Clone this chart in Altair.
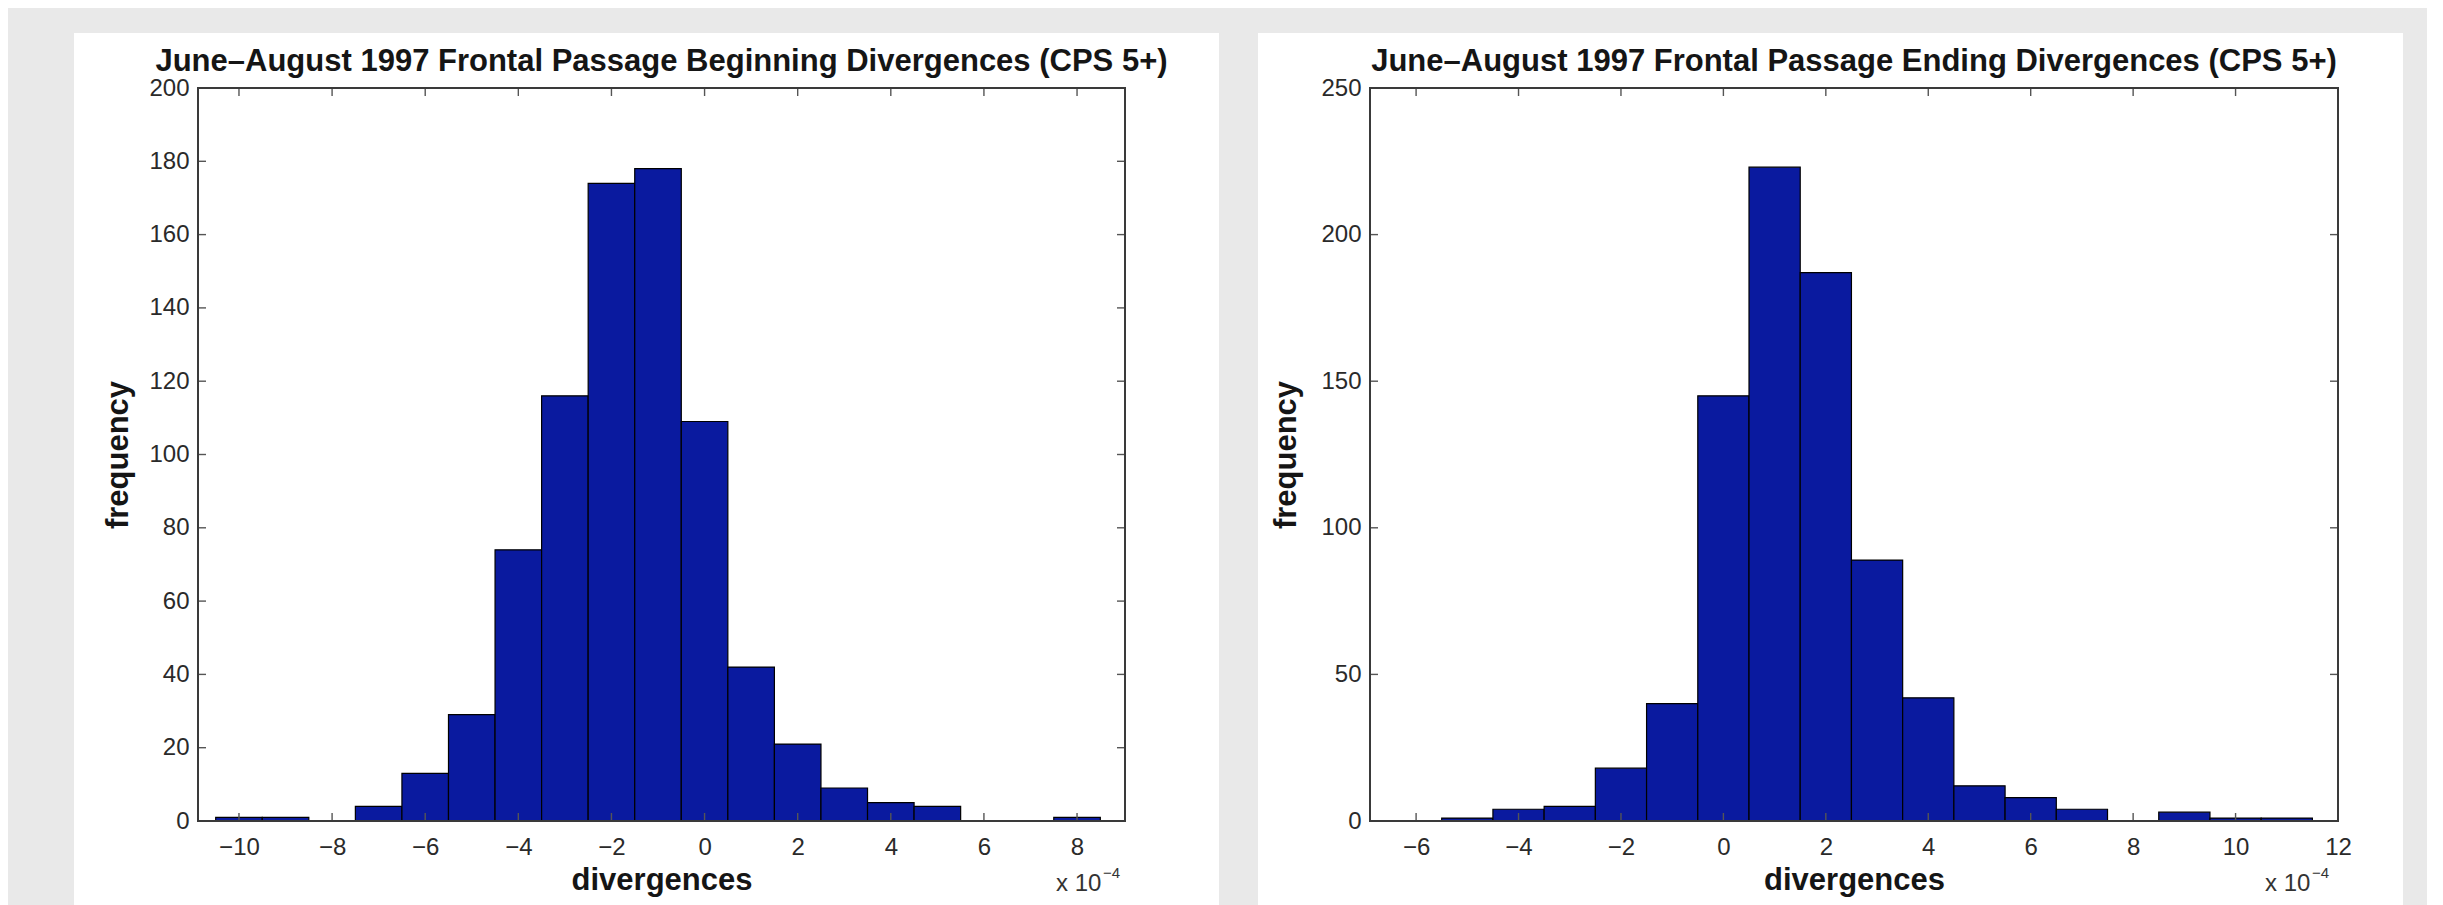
import altair as alt
import pandas as pd

# ---------------- data ----------------
BIN_WIDTH = 1.0  # units of 1e-4

left_title = "June\u2013August 1997 Frontal Passage Beginning Divergences (CPS 5+)"
left_centers = [-10, -9, -8, -7, -6, -5, -4, -3, -2, -1, 0, 1, 2, 3, 4, 5, 6, 7, 8]
left_counts = [1, 1, 0, 4, 13, 29, 74, 116, 174, 178, 109, 42, 21, 9, 5, 4, 0, 0, 1]
left_xdomain = [-10.88, 9.03]
left_xticks = [-10, -8, -6, -4, -2, 0, 2, 4, 6, 8]
left_ydomain = [0, 200]
left_yticks = [0, 20, 40, 60, 80, 100, 120, 140, 160, 180, 200]

right_title = "June\u2013August 1997 Frontal Passage Ending Divergences (CPS 5+)"
right_centers = [-5, -4, -3, -2, -1, 0, 1, 2, 3, 4, 5, 6, 7, 8, 9, 10, 11]
right_counts = [1, 4, 5, 18, 40, 145, 223, 187, 89, 42, 12, 8, 4, 0, 3, 1, 1]
right_xdomain = [-6.9, 12.0]
right_xticks = [-6, -4, -2, 0, 2, 4, 6, 8, 10, 12]
right_ydomain = [0, 250]
right_yticks = [0, 50, 100, 150, 200, 250]

x_title = "divergences"
y_title = "frequency"
exp_base = "x 10"
exp_power = "\u22124"

# ---------------- style ----------------
FONT = "Liberation Sans"
BAR = "#0a1a9f"
FRAME = "#3a3a3a"
TICK = "#555555"
PAGE_BG = "#e9e9e9"
H = 733
TOP_EXT = 55
BOTTOM_EXT = 818


def panel(title, centers, counts, xdom, xticks, ydom, yticks, W,
          left_ext, right_ext, ytitle_x, exp_x):
    df = pd.DataFrame({"center": centers, "count": counts})
    df["start"] = df["center"] - BIN_WIDTH / 2
    df["end"] = df["center"] + BIN_WIDTH / 2

    xs = alt.Scale(domain=xdom, nice=False, zero=False)
    ys = alt.Scale(domain=ydom, nice=False, zero=False)
    xaxis = alt.Axis(values=xticks, title=x_title, labelPadding=14, zindex=2,
                     labelFlush=False, titleY=59, titleBaseline="middle")
    yaxis = alt.Axis(values=yticks, title=y_title, labelPadding=9, zindex=2,
                     titleX=ytitle_x, titleY=H / 2, titleAngle=270,
                     titleAlign="center", titleBaseline="middle")
    one = alt.Chart(pd.DataFrame({"k": [0]}))

    bg = one.mark_rect(fill="white").encode(
        x=alt.value(-left_ext), x2=alt.value(W + right_ext),
        y=alt.value(-TOP_EXT), y2=alt.value(BOTTOM_EXT))

    bars = alt.Chart(df).mark_rect(fill=BAR, stroke="#000000", strokeWidth=1.2).encode(
        x=alt.X("start:Q", scale=xs, axis=xaxis),
        x2="end:Q",
        y=alt.Y("count:Q", scale=ys, axis=yaxis),
        y2=alt.datum(0),
    )

    xt = alt.Chart(pd.DataFrame({"start": xticks}))
    yt = alt.Chart(pd.DataFrame({"count": yticks}))
    tick_x_bottom = xt.mark_rule(color=TICK, strokeWidth=1.4).encode(
        x=alt.X("start:Q", scale=xs, axis=xaxis), y=alt.value(H), y2=alt.value(H - 8))
    tick_x_top = xt.mark_rule(color=TICK, strokeWidth=1.4).encode(
        x=alt.X("start:Q", scale=xs, axis=xaxis), y=alt.value(0), y2=alt.value(8))
    tick_y_left = yt.mark_rule(color=TICK, strokeWidth=1.4).encode(
        y=alt.Y("count:Q", scale=ys, axis=yaxis), x=alt.value(0), x2=alt.value(8))
    tick_y_right = yt.mark_rule(color=TICK, strokeWidth=1.4).encode(
        y=alt.Y("count:Q", scale=ys, axis=yaxis), x=alt.value(W - 8), x2=alt.value(W))

    frame = one.mark_rect(fillOpacity=0, stroke=FRAME, strokeWidth=2).encode(
        x=alt.value(0), x2=alt.value(W), y=alt.value(0), y2=alt.value(H))

    ttl = one.mark_text(text=title, font=FONT, fontSize=31, fontWeight="bold",
                        color="#151515", align="center", baseline="alphabetic").encode(
        x=alt.value(W / 2), y=alt.value(-17))

    e1 = one.mark_text(text=exp_base, font=FONT, fontSize=24, color="#333333",
                       align="left", baseline="alphabetic").encode(
        x=alt.value(exp_x), y=alt.value(H + 70))
    e2 = one.mark_text(text=exp_power, font=FONT, fontSize=15, color="#333333",
                       align="left", baseline="alphabetic").encode(
        x=alt.value(exp_x + 47), y=alt.value(H + 57))

    return alt.layer(bg, bars, tick_x_bottom, tick_x_top, tick_y_left, tick_y_right,
                     frame, ttl, e1, e2).properties(width=W, height=H)


left = panel(left_title, left_centers, left_counts, left_xdomain, left_xticks,
             left_ydomain, left_yticks, 927, 124, 94, -80, 858)
right = panel(right_title, right_centers, right_counts, right_xdomain, right_xticks,
              right_ydomain, right_yticks, 968, 112, 65, -84, 895)

chart = alt.hconcat(left, right, spacing=37).properties(
    padding={"left": 65, "top": 24, "right": 23, "bottom": 0},
    background=PAGE_BG,
).configure_view(stroke="transparent").configure_axis(
    grid=False, domain=False, ticks=False, tickSize=0,
    labelFont=FONT, labelFontSize=24, labelColor="#2a2a2a",
    titleFont=FONT, titleFontSize=31, titleFontWeight="bold", titleColor="#151515",
)

chart.save("out.html", embed_options={"renderer": "svg", "actions": False})
